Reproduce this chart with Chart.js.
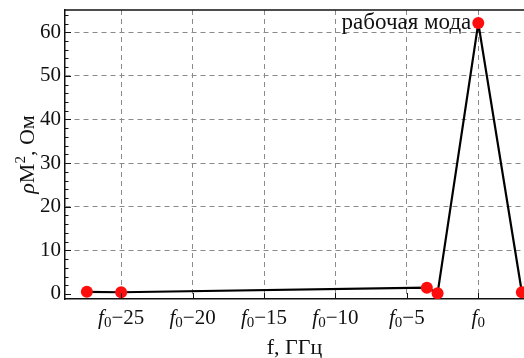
<!DOCTYPE html>
<html>
<head>
<meta charset="utf-8">
<script src="https://cdn.jsdelivr.net/npm/chart.js@4"></script>
<style>
  html, body { margin: 0; padding: 0; background: #fff; }
  #wrap { width: 524px; height: 358px; }
</style>
</head>
<body>
<div id="wrap"><canvas id="rhoChart" width="524" height="358"></canvas></div>
<script>
// offsets from f0, GHz
const freqOffsets = [-27.4, -25, -3.6, -2.85, 0, 3.05];
const rhoM2 = [0.5, 0.4, 1.45, 0.15, 62.1, 0.4];
const xTicks = [-25, -20, -15, -10, -5, 0];
const yTicks = [0, 10, 20, 30, 40, 50, 60];
const modeLabel = "рабочая мода";
const modeIndex = 4;

const serif = "'Liberation Serif', 'DejaVu Serif', serif";

// draw a row of text pieces (font, vertical shift) centred on cx
function drawRuns(ctx, runs, cx, base) {
  let total = 0;
  runs.forEach(r => { ctx.font = r.font; r.w = ctx.measureText(r.text).width; total += r.w; });
  let x = cx - total / 2;
  ctx.textAlign = "left";
  runs.forEach(r => {
    ctx.font = r.font;
    ctx.fillText(r.text, x, base + (r.dy || 0));
    x += r.w;
  });
}

const framePlugin = {
  id: "frame",
  afterDraw(chart) {
    const ctx = chart.ctx;
    const area = chart.chartArea;
    const xs = chart.scales.x;
    const ys = chart.scales.y;
    ctx.save();
    ctx.strokeStyle = "#111";
    ctx.lineWidth = 1.5;
    // top border
    ctx.beginPath();
    ctx.moveTo(area.left, area.top);
    ctx.lineTo(area.right, area.top);
    ctx.stroke();

    // inward ticks on y (major + minor)
    ctx.lineWidth = 1;
    for (let v = 0; v <= 64; v += 2) {
      const y = Math.round(ys.getPixelForValue(v)) + 0.5;
      const len = v % 10 === 0 ? 6 : 3.5;
      ctx.beginPath();
      ctx.moveTo(area.left, y);
      ctx.lineTo(area.left + len, y);
      ctx.stroke();
    }
    // inward ticks on x
    xTicks.forEach(v => {
      const x = Math.round(xs.getPixelForValue(v)) + 0.5;
      ctx.beginPath();
      ctx.moveTo(x, area.bottom);
      ctx.lineTo(x, area.bottom - 6);
      ctx.stroke();
    });

    ctx.fillStyle = "#111";
    ctx.textBaseline = "alphabetic";

    // x tick labels: f_0 - n
    xTicks.forEach(v => {
      const rest = v === 0 ? "" : "\u2212" + Math.abs(v);
      drawRuns(ctx, [
        { text: "f", font: "italic 21px " + serif },
        { text: "0", font: "15px " + serif, dy: 3 },
        { text: rest, font: "21px " + serif }
      ], xs.getPixelForValue(v), 324);
    });

    // axis titles
    drawRuns(ctx, [{ text: "f, ГГц", font: "22px " + serif }], (area.left + area.right) / 2, 354);
    ctx.save();
    ctx.translate(34, (area.top + area.bottom) / 2);
    ctx.rotate(-Math.PI / 2);
    drawRuns(ctx, [
      { text: "ρ", font: "italic 22px " + serif },
      { text: "M", font: "22px " + serif },
      { text: "2", font: "15px " + serif, dy: -9 },
      { text: ", Ом", font: "22px " + serif }
    ], 0, 0);
    ctx.restore();

    // annotation of the working mode
    const px = xs.getPixelForValue(freqOffsets[modeIndex]);
    const py = ys.getPixelForValue(rhoM2[modeIndex]);
    ctx.font = "23px " + serif;
    ctx.textAlign = "right";
    ctx.fillText(modeLabel, px - 7, py + 6);
    ctx.restore();
  }
};

new Chart(document.getElementById("rhoChart").getContext("2d"), {
  type: "scatter",
  data: {
    datasets: [{
      data: freqOffsets.map((f, i) => ({ x: f, y: rhoM2[i] })),
      showLine: true,
      borderColor: "#000",
      borderWidth: 2.2,
      pointRadius: 6,
      pointHoverRadius: 6,
      pointBackgroundColor: "#ff0d0d",
      pointBorderWidth: 0,
      tension: 0
    }]
  },
  options: {
    responsive: false,
    animation: false,
    events: [],
    layout: { autoPadding: false, padding: { top: 10, right: 0, bottom: 0, left: 0 } },
    plugins: { legend: { display: false }, tooltip: { enabled: false } },
    scales: {
      x: {
        type: "linear",
        min: -28.93,
        max: 3.2,
        afterBuildTicks: s => { s.ticks = xTicks.map(v => ({ value: v })); },
        afterFit: s => { s.height = 59; s.paddingLeft = 0; s.paddingRight = 0; },
        ticks: { callback: () => "" },
        grid: { color: "#8a8a8a", lineWidth: 1, drawTicks: false },
        border: { color: "#111", width: 1.5, dash: [5, 4] }
      },
      y: {
        type: "linear",
        min: -1.15,
        max: 65.1,
        afterBuildTicks: s => { s.ticks = yTicks.map(v => ({ value: v })); },
        afterFit: s => { s.width = 65; s.paddingTop = 0; s.paddingBottom = 0; },
        ticks: { color: "#111", padding: 4, font: { family: serif, size: 21 } },
        grid: {
          color: c => (c.tick && c.tick.value === 0 ? "rgba(0,0,0,0)" : "#8a8a8a"),
          lineWidth: 1,
          drawTicks: false
        },
        border: { color: "#111", width: 1.5, dash: [5, 4] }
      }
    }
  },
  plugins: [framePlugin]
});
</script>
</body>
</html>
